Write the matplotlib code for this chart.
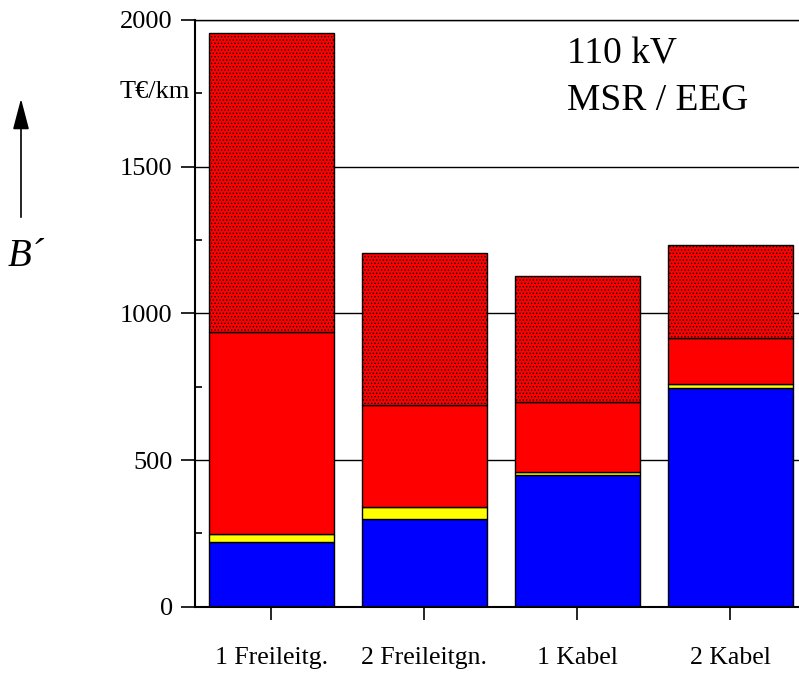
import matplotlib
matplotlib.use("Agg")
import matplotlib.pyplot as plt
import numpy as np

# Données (T€/km)
categories = ["1 Freileitg.", "2 Freileitgn.", "1 Kabel", "2 Kabel"]
blau = [220, 299, 449, 745]
gelb = [28, 42, 9, 13]
rot = [687, 347, 239, 157]
rot_punkte = [1020, 519, 432, 318]

plt.rcParams['font.family'] = ['Liberation Serif', 'DejaVu Serif']
plt.rcParams['hatch.linewidth'] = 0.6

W, H = 799, 677
fig = plt.figure(figsize=(W / 100, H / 100), dpi=100)
ax = fig.add_axes([0.244, 0.1038, 0.766, 0.8667])

x = np.arange(len(categories))
w = 0.82
bottom = np.zeros(len(categories))
for vals, col, hatch in [(blau, '#0000ff', None), (gelb, '#ffff00', None),
                         (rot, '#ff0000', None), (rot_punkte, '#ff0000', '.....')]:
    ax.bar(x, vals, w, bottom=bottom, color=col, edgecolor='black',
           linewidth=1.0, hatch=hatch, zorder=2)
    bottom += np.array(vals)

# Axes
ax.set_xlim(-0.5, 3.5)
ax.set_ylim(0, 2000)
ax.set_yticks([0, 500, 1000, 1500, 2000])
ax.set_yticks([250, 750, 1250, 1750], minor=True)
ax.yaxis.grid(True, which='major', color='black', linewidth=1.0, zorder=0)
ax.set_axisbelow(True)
ax.set_xticks(x)
ax.set_xticklabels(categories, fontsize=18.5)
ax.tick_params(axis='y', which='major', direction='out', length=10, width=1.2,
               labelsize=19, pad=6)
ax.tick_params(axis='y', which='minor', direction='in', length=5, width=1.2)
ax.tick_params(axis='x', direction='out', length=9, width=1.2, pad=20)
ax.spines['right'].set_visible(False)
ax.spines['left'].set_linewidth(1.5)
ax.spines['bottom'].set_linewidth(1.5)
ax.spines['top'].set_linewidth(1.0)

# Textes
fig.text(190 / W, 1 - 92 / H, "T€/km", fontsize=19, ha='right', va='center')
fig.text(567 / W, 1 - 54 / H, "110 kV", fontsize=27, ha='left', va='center')
fig.text(567 / W, 1 - 101 / H, "MSR / EEG", fontsize=27, ha='left', va='center')

fig.text(8 / W, 1 - 257 / H, "B´", fontsize=28, style='italic',
         ha='left', va='center')
ax.annotate("", xy=(21 / W, 1 - 96 / H), xytext=(21 / W, 1 - 220 / H),
            xycoords='figure fraction', textcoords='figure fraction',
            arrowprops=dict(arrowstyle='-|>,head_width=0.5,head_length=1.9',
                            color='black', lw=1.2))

fig.savefig("out.png", dpi=100)
